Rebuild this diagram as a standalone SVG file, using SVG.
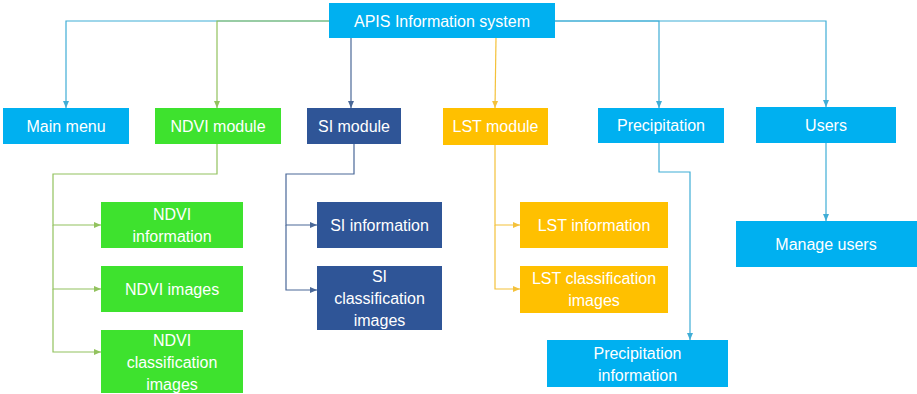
<svg xmlns="http://www.w3.org/2000/svg" width="917" height="394" viewBox="0 0 917 394">
<style>
text{font-family:"Liberation Sans",Arial,sans-serif;font-size:16px;fill:#fff;text-anchor:middle}
.cy{fill:#00B0F0}.gr{fill:#3EE22E}.db{fill:#2F5597}.ye{fill:#FFC000}
.c{fill:none;stroke-width:1.2}
.lc{stroke:#3FADD6}.lg{stroke:#92C25E}.ld{stroke:#4A6898}.ly{stroke:#F4C13A}
</style>
<defs>
<marker id="ac" markerWidth="8" markerHeight="8" refX="7" refY="4" orient="auto" markerUnits="userSpaceOnUse"><path d="M0,1 L7,4 L0,7z" fill="#3FADD6"/></marker>
<marker id="ag" markerWidth="8" markerHeight="8" refX="7" refY="4" orient="auto" markerUnits="userSpaceOnUse"><path d="M0,1 L7,4 L0,7z" fill="#92C25E"/></marker>
<marker id="ad" markerWidth="8" markerHeight="8" refX="7" refY="4" orient="auto" markerUnits="userSpaceOnUse"><path d="M0,1 L7,4 L0,7z" fill="#4A6898"/></marker>
<marker id="ay" markerWidth="8" markerHeight="8" refX="7" refY="4" orient="auto" markerUnits="userSpaceOnUse"><path d="M0,1 L7,4 L0,7z" fill="#F4C13A"/></marker>
</defs>
<g id="connectors">
<path class="c lc" d="M329,21 H66 V108" marker-end="url(#ac)"/>
<path class="c lg" d="M329,21 H217 V108" marker-end="url(#ag)"/>
<path class="c ld" d="M351,38 V108" marker-end="url(#ad)"/>
<path class="c ly" d="M496,38 L495,108" marker-end="url(#ay)"/>
<path class="c lc" d="M555,21 H659 V108" marker-end="url(#ac)"/>
<path class="c lc" d="M555,21 H826 V107" marker-end="url(#ac)"/>
<path class="c lg" d="M217,144 V174 H53 V225 H101" marker-end="url(#ag)"/>
<path class="c lg" d="M53,225 V289 H101" marker-end="url(#ag)"/>
<path class="c lg" d="M53,289 V352 H101" marker-end="url(#ag)"/>
<path class="c ld" d="M354,144 V174 H286 V225 H317" marker-end="url(#ad)"/>
<path class="c ld" d="M286,225 V290 H317" marker-end="url(#ad)"/>
<path class="c ly" d="M495,145 V225 H520" marker-end="url(#ay)"/>
<path class="c ly" d="M495,225 V289 H520" marker-end="url(#ay)"/>
<path class="c lc" d="M659,143 V172 H690 V340" marker-end="url(#ac)"/>
<path class="c lc" d="M826,143 V221" marker-end="url(#ac)"/>
</g>
<g id="apis"><rect class="cy" x="329" y="3" width="226" height="35"/><text x="442" y="26.5">APIS Information system</text></g>
<g id="main-menu"><rect class="cy" x="3" y="108" width="126" height="36"/><text x="66" y="131.5">Main menu</text></g>
<g id="ndvi-module"><rect class="gr" x="155" y="108" width="126" height="36"/><text x="218" y="131.5">NDVI module</text></g>
<g id="si-module"><rect class="db" x="307" y="108" width="94" height="36"/><text x="354" y="131.5">SI module</text></g>
<g id="lst-module"><rect class="ye" x="443" y="108" width="105" height="37"/><text x="495.5" y="132">LST module</text></g>
<g id="precipitation"><rect class="cy" x="598" y="108" width="126" height="35"/><text x="661" y="131">Precipitation</text></g>
<g id="users"><rect class="cy" x="756" y="107" width="140" height="36"/><text x="826" y="131">Users</text></g>
<g id="ndvi-information"><rect class="gr" x="101" y="202" width="142" height="46"/><text x="172" y="219.5">NDVI</text><text x="172" y="241.5">information</text></g>
<g id="ndvi-images"><rect class="gr" x="101" y="266" width="142" height="46"/><text x="172" y="294.5">NDVI images</text></g>
<g id="ndvi-classification"><rect class="gr" x="101" y="330" width="142" height="63"/><text x="172" y="345.5">NDVI</text><text x="172" y="367.5">classification</text><text x="172" y="389.5">images</text></g>
<g id="si-information"><rect class="db" x="317" y="202" width="125" height="46"/><text x="379.5" y="230.5">SI information</text></g>
<g id="si-classification"><rect class="db" x="317" y="266" width="125" height="64"/><text x="379.5" y="281.5">SI</text><text x="379.5" y="303.5">classification</text><text x="379.5" y="325.5">images</text></g>
<g id="lst-information"><rect class="ye" x="520" y="202" width="148" height="46"/><text x="594" y="230.5">LST information</text></g>
<g id="lst-classification"><rect class="ye" x="520" y="266" width="148" height="47"/><text x="594" y="284">LST classification</text><text x="594" y="306">images</text></g>
<g id="precipitation-information"><rect class="cy" x="547" y="340" width="181" height="47"/><text x="637.5" y="359">Precipitation</text><text x="637.5" y="381">information</text></g>
<g id="manage-users"><rect class="cy" x="736" y="221" width="181" height="46"/><text x="826" y="249.5">Manage users</text></g>
</svg>
